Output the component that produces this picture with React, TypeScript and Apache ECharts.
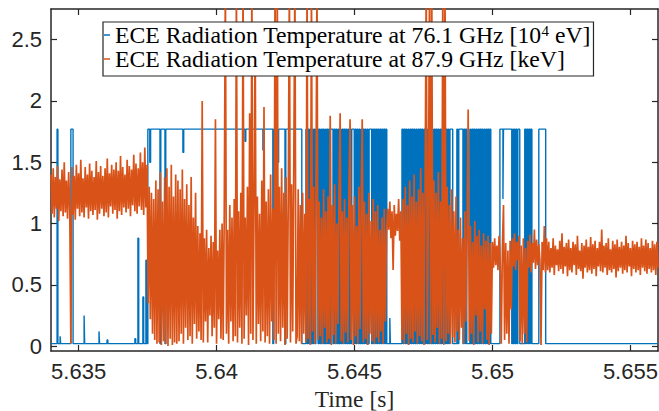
import React, { useEffect, useRef } from "react";
import * as echarts from "echarts";

const X_MIN = 5.634;
const X_MAX = 5.656;
const Y_MIN = -0.04;
const Y_MAX = 2.75;
const X_TICKS = [5.635, 5.64, 5.645, 5.65, 5.655];
const Y_TICKS = [0, 0.5, 1, 1.5, 2, 2.5];

const NAME_BLUE = "ECE Radiation Temperature at 76.1 GHz [10^4 eV]";
const NAME_ORANGE = "ECE Radiation Temperature at 87.9 GHz [keV]";

// 87.9 GHz channel, uniformly sampled from ORANGE_T0 every ORANGE_DT seconds
const ORANGE_T0 = 5.634;
const ORANGE_DT = 0.00004;
const ORANGE_VALUES = [
  1.40,1.08,1.45,1.05,1.38,1.12,1.47,1.02,1.36,1.10,
  1.44,1.06,1.50,1.09,1.35,1.04,1.42,1.11,0.02,1.46,
  1.07,1.39,1.03,1.48,1.12,1.41,1.06,1.52,1.09,1.37,
  1.05,1.46,1.13,1.40,1.04,1.49,1.10,1.43,1.07,1.38,
  1.11,1.51,1.03,1.42,1.08,1.47,1.12,1.39,1.06,1.45,
  1.09,1.53,1.05,1.41,1.14,1.48,1.08,1.44,1.11,1.50,
  1.04,1.43,1.10,1.55,1.07,1.46,1.13,1.40,1.09,1.52,
  1.12,1.47,1.06,1.44,1.15,1.56,1.10,1.49,1.08,1.45,
  1.14,1.58,1.11,1.50,1.07,1.62,1.13,1.48,0.35,1.30,
  0.22,1.25,0.10,1.20,0.05,1.35,0.02,1.28,0.03,1.42,
  0.01,1.18,0.04,1.38,0.02,1.45,0.00,1.30,0.06,1.48,
  0.01,1.22,0.03,1.40,0.02,1.35,0.04,1.28,0.10,1.44,
  0.02,1.20,0.15,1.32,0.05,1.15,0.08,1.38,0.02,1.05,
  0.18,1.25,0.06,0.98,0.12,0.92,0.05,2.00,0.03,0.88,
  0.20,0.95,0.03,0.80,0.25,0.90,0.08,0.85,0.15,1.85,
  0.02,0.78,0.22,0.95,0.06,1.00,0.05,1.10,3.00,0.10,
  0.95,0.02,1.15,0.20,1.05,0.04,1.20,0.08,3.00,0.03,
  1.10,0.15,1.25,0.02,3.00,0.06,1.05,0.25,1.30,0.01,
  1.90,0.10,3.00,0.05,1.15,2.60,0.02,1.22,0.18,1.08,
  0.04,1.35,0.12,1.95,0.03,1.18,0.08,1.28,0.02,1.40,
  0.20,1.12,0.05,3.00,0.02,3.00,0.10,1.30,0.04,1.45,
  0.15,1.25,0.01,1.38,0.06,1.20,3.00,0.03,1.32,0.12,
  1.50,3.00,0.02,0.08,1.28,0.04,1.15,0.02,1.25,0.10,
  1.08,0.03,3.00,0.06,1.20,0.01,3.00,0.12,1.30,0.02,
  1.12,3.00,0.05,1.18,0.08,1.05,0.02,1.28,0.15,1.10,
  0.03,1.22,0.06,1.88,0.01,1.15,0.09,1.32,0.02,1.00,
  0.18,1.25,1.90,0.04,1.10,0.02,1.20,0.11,1.05,0.03,
  1.28,1.85,0.05,1.15,0.01,1.22,0.08,0.98,0.02,1.30,
  0.14,1.12,1.85,0.03,1.18,0.06,1.08,0.01,1.25,0.10,
  1.02,0.04,1.20,0.02,1.10,0.07,1.15,0.03,0.95,0.12,
  1.05,0.02,1.12,0.20,0.92,1.12,0.95,1.18,0.88,1.10,
  0.62,1.15,0.90,1.08,0.94,1.20,0.86,1.10,0.05,1.20,
  0.02,1.30,0.10,1.15,0.01,1.35,0.06,1.22,0.03,1.40,
  0.12,1.18,0.02,1.28,0.08,1.45,0.04,1.25,0.01,1.32,
  3.00,0.05,1.20,3.00,0.02,3.00,0.09,1.35,0.03,1.25,
  0.15,1.42,0.02,1.18,0.06,3.00,0.01,3.00,0.04,1.30,
  0.10,1.15,0.02,1.28,0.07,1.10,0.03,1.22,0.12,0.95,
  0.05,1.05,0.15,0.88,0.02,1.10,0.20,0.92,1.93,0.04,
  0.98,0.10,0.85,0.01,1.02,0.25,0.90,0.03,0.95,0.12,
  0.82,0.02,0.92,0.30,0.86,0.05,0.90,0.01,0.84,0.10,
  0.85,0.64,0.88,0.66,0.82,0.62,0.90,0.68,0.02,0.80,
  1.15,0.05,0.84,0.10,0.78,0.02,0.86,0.30,0.88,0.65,
  0.92,0.62,0.85,0.70,0.90,0.04,0.82,0.02,0.88,0.10,
  0.80,0.03,0.86,0.64,0.91,0.60,0.84,0.68,0.95,0.63,
  0.87,0.66,0.83,0.70,0.01,0.85,0.62,0.98,0.60,0.88,
  0.62,0.85,0.60,0.80,0.64,0.88,0.58,0.82,0.66,0.79,
  0.61,0.86,0.63,0.92,0.59,0.81,0.65,0.84,0.57,0.87,
  0.62,0.80,0.60,0.85,0.66,0.83,0.58,0.90,0.63,0.78,
  0.61,0.84,0.55,0.82,0.64,0.87,0.60,0.81,0.62,0.89,
  0.59,0.83,0.63,0.86,0.57,0.80,0.65,0.85,0.61,0.95,
  0.60,0.82,0.64,0.84,0.58,0.88,0.62,0.79,0.60,0.86,
  0.63,0.83,0.56,0.87,0.61,0.81,0.64,0.85,0.59,0.82,
  0.62,0.90,0.60,0.84,0.65,0.80,0.57,0.86,0.63,0.83,
  0.60,0.85,0.62,0.81,0.58,0.88,0.64,0.82,0.61,0.87,
  0.59,0.84,0.63,0.80,0.60,0.86,0.62,0.83,0.58,0.85,0.64,
];

// 76.1 GHz channel: [time of change (s), new level]
const BLUE_STEPS: [number, number][] = [
  [5.63400,0.02],[5.63422,1.77],[5.63425,0.02],[5.63433,0.08],[5.63435,0.02],
  [5.63472,1.77],[5.63480,0.02],[5.63520,0.25],[5.63522,0.02],[5.63574,0.12],[5.63576,0.02],
  [5.63603,0.05],[5.63606,0.02],[5.63704,0.06],[5.63707,0.02],[5.63715,0.88],[5.63718,0.02],
  [5.63733,0.40],[5.63736,0.02],[5.63744,0.70],[5.63747,0.02],[5.63751,1.77],
  [5.63758,1.50],[5.63761,1.77],[5.63795,0.02],[5.63798,1.77],[5.63813,0.02],[5.63816,1.77],
  [5.63878,1.58],[5.63881,1.77],[5.64103,1.67],[5.64106,1.77],[5.64168,1.60],[5.64171,1.77],
  [5.64204,0.02],[5.64207,1.77],[5.64222,1.50],[5.64225,1.77],[5.64248,0.02],[5.64251,1.77],
  [5.64309,0.02],
  [5.64324,1.77],[5.64328,0.02],[5.64331,1.77],[5.64335,0.02],[5.64338,1.77],[5.64341,0.02],
  [5.64345,1.77],[5.64348,0.02],[5.64352,1.77],[5.64356,0.02],[5.64360,1.77],[5.64368,0.02],
  [5.64371,1.77],[5.64374,0.02],[5.64378,1.77],[5.64381,0.02],[5.64384,1.77],[5.64388,0.02],
  [5.64392,1.77],[5.64395,0.02],[5.64399,1.77],[5.64403,0.02],[5.64406,1.77],[5.64410,0.02],
  [5.64413,1.77],[5.64422,0.02],[5.64425,1.77],[5.64429,0.02],[5.64432,1.77],[5.64436,0.02],
  [5.64440,1.77],[5.64443,0.02],[5.64447,1.77],[5.64450,0.02],[5.64454,1.77],[5.64458,0.02],
  [5.64461,1.77],[5.64465,0.02],[5.64468,1.77],[5.64472,0.02],[5.64476,1.77],[5.64479,0.02],
  [5.64483,1.77],[5.64487,0.02],[5.64490,1.77],[5.64499,0.02],[5.64502,1.77],[5.64506,0.02],
  [5.64509,1.77],[5.64513,0.02],[5.64517,1.77],[5.64520,0.02],[5.64524,1.77],[5.64528,0.02],
  [5.64531,1.77],[5.64535,0.02],[5.64538,1.77],[5.64542,0.02],[5.64546,1.77],[5.64549,0.02],
  [5.64553,1.77],[5.64562,0.02],[5.64565,1.77],[5.64569,0.02],[5.64572,1.77],[5.64576,0.02],
  [5.64579,1.77],[5.64583,0.02],[5.64586,1.77],[5.64590,0.02],[5.64593,1.77],[5.64597,0.02],
  [5.64600,1.77],[5.64604,0.02],[5.64607,1.77],[5.64611,0.02],[5.64614,1.77],[5.64617,0.02],
  [5.64628,0.23],[5.64630,0.02],
  [5.64672,1.77],[5.64676,0.02],[5.64679,1.77],[5.64683,0.02],[5.64686,1.77],[5.64690,0.02],
  [5.64694,1.77],[5.64697,0.02],[5.64701,1.77],[5.64705,0.02],[5.64708,1.77],[5.64712,0.02],
  [5.64715,1.77],[5.64719,0.02],[5.64723,1.77],[5.64726,0.02],[5.64730,1.77],[5.64734,0.02],
  [5.64737,1.77],[5.64741,0.02],[5.64744,1.77],[5.64748,0.02],[5.64752,1.77],[5.64755,0.02],
  [5.64759,1.77],[5.64763,0.02],[5.64766,1.77],[5.64770,0.02],[5.64773,1.77],[5.64777,0.02],
  [5.64781,1.77],[5.64784,0.02],[5.64788,1.77],[5.64792,0.02],[5.64795,1.77],[5.64799,0.02],
  [5.64802,1.77],[5.64806,0.02],[5.64810,1.77],[5.64813,0.02],[5.64817,1.77],[5.64821,0.02],
  [5.64824,1.77],[5.64828,0.02],[5.64831,1.77],[5.64835,0.02],[5.64838,1.77],[5.64842,0.02],
  [5.64846,1.77],[5.64856,0.02],[5.64871,1.77],[5.64874,0.02],[5.64878,1.77],[5.64893,0.02],
  [5.64896,1.77],[5.64900,0.02],[5.64903,1.77],[5.64907,0.02],[5.64918,1.77],[5.64921,0.02],
  [5.64925,1.77],[5.64929,0.02],[5.64932,1.77],[5.64936,0.02],[5.64940,1.77],[5.64943,0.02],
  [5.64947,1.77],[5.64951,0.02],[5.64954,1.77],[5.64958,0.02],[5.64961,1.77],[5.64965,0.02],
  [5.64969,1.77],[5.64972,0.02],[5.64976,1.77],[5.64980,0.02],[5.64983,1.77],[5.64987,0.02],
  [5.64990,1.77],[5.64994,0.02],
  [5.65027,1.77],[5.65038,1.20],[5.65040,1.77],[5.65070,0.02],[5.65073,1.77],[5.65076,0.02],
  [5.65079,1.77],[5.65082,0.02],[5.65085,1.77],[5.65088,0.02],[5.65092,1.77],[5.65099,0.02],
  [5.65117,1.77],[5.65121,0.02],[5.65124,1.77],[5.65128,0.02],[5.65131,1.77],[5.65135,0.02],
  [5.65138,1.77],[5.65143,0.02],[5.65168,1.77],[5.65193,0.02],[5.65600,0.02],
];

const AXIS_COLOR = "#262626";

export default function App() {
  const ref = useRef<HTMLDivElement>(null);

  useEffect(() => {
    document.body.style.margin = "0";
    if (!ref.current) return;
    const chart = echarts.init(ref.current, undefined, { renderer: "svg" });

    const orangeData = ORANGE_VALUES.map((v, i) => [
      Number((ORANGE_T0 + i * ORANGE_DT).toFixed(6)),
      v,
    ]);

    const axisLineStyle = { color: AXIS_COLOR, width: 1.5 };
    const tickStyle = { color: AXIS_COLOR, width: 1.2 };
    const labelStyle = {
      fontFamily: "Liberation Sans",
      fontSize: 22,
      color: AXIS_COLOR,
    };

    const option: any = {
      animation: false,
      grid: {
        left: 51,
        right: 1,
        top: 9,
        bottom: 60,
        containLabel: false,
        outerBoundsMode: "none",
      },
      legend: {
        orient: "vertical",
        left: 103,
        top: 22,
        padding: [1, 3, 5, 1],
        itemGap: 0,
        itemWidth: 6,
        itemHeight: 1.5,
        icon: "rect",
        borderColor: AXIS_COLOR,
        borderWidth: 1.2,
        backgroundColor: "#ffffff",
        selectedMode: false,
        data: [NAME_BLUE, NAME_ORANGE],
        formatter: (name: string) =>
          name === NAME_BLUE
            ? "{a|ECE Radiation Temperature at 76.1 GHz [10}{s|4}{a| eV]}"
            : "{a|" + name + "}",
        textStyle: {
          fontFamily: "Liberation Serif",
          fontSize: 23.7,
          color: "#000",
          rich: {
            a: {
              fontFamily: "Liberation Serif",
              fontSize: 23.7,
              lineHeight: 24,
              color: "#000",
            },
            s: {
              fontFamily: "Liberation Serif",
              fontSize: 15,
              lineHeight: 14,
              verticalAlign: "top",
              color: "#000",
            },
          },
        },
      },
      xAxis: [
        {
          type: "value",
          min: X_MIN,
          max: X_MAX,
          position: "bottom",
          axisLine: { show: true, onZero: false, lineStyle: axisLineStyle },
          axisTick: {
            show: true,
            inside: true,
            length: 6,
            customValues: X_TICKS,
            lineStyle: tickStyle,
          },
          axisLabel: {
            ...labelStyle,
            margin: 9,
            customValues: X_TICKS,
            formatter: (v: number) => String(v),
          },
          splitLine: { show: false },
          name: "Time [s]",
          nameLocation: "middle",
          nameGap: 35,
          nameTextStyle: {
            fontFamily: "Liberation Serif",
            fontSize: 23.5,
            color: AXIS_COLOR,
          },
        },
        {
          type: "value",
          min: X_MIN,
          max: X_MAX,
          position: "top",
          axisLine: { show: true, onZero: false, lineStyle: axisLineStyle },
          axisTick: {
            show: true,
            inside: true,
            length: 6,
            customValues: X_TICKS,
            lineStyle: tickStyle,
          },
          axisLabel: { show: false },
          splitLine: { show: false },
        },
      ],
      yAxis: [
        {
          type: "value",
          min: Y_MIN,
          max: Y_MAX,
          position: "left",
          axisLine: { show: true, onZero: false, lineStyle: axisLineStyle },
          axisTick: {
            show: true,
            inside: true,
            length: 6,
            customValues: Y_TICKS,
            lineStyle: tickStyle,
          },
          axisLabel: {
            ...labelStyle,
            margin: 9,
            customValues: Y_TICKS,
            formatter: (v: number) => String(v),
          },
          splitLine: { show: false },
        },
        {
          type: "value",
          min: Y_MIN,
          max: Y_MAX,
          position: "right",
          axisLine: { show: true, onZero: false, lineStyle: axisLineStyle },
          axisTick: {
            show: true,
            inside: true,
            length: 6,
            customValues: Y_TICKS,
            lineStyle: tickStyle,
          },
          axisLabel: { show: false },
          splitLine: { show: false },
        },
      ],
      series: [
        {
          name: NAME_BLUE,
          type: "line",
          data: BLUE_STEPS,
          step: "end",
          showSymbol: false,
          symbol: "none",
          silent: true,
          clip: true,
          z: 2,
          lineStyle: { color: "#0072BD", width: 1.4 },
          itemStyle: { color: "#0072BD" },
        },
        {
          name: NAME_ORANGE,
          type: "line",
          data: orangeData,
          showSymbol: false,
          symbol: "none",
          silent: true,
          clip: true,
          z: 3,
          lineStyle: { color: "#D95319", width: 1.7 },
          itemStyle: { color: "#D95319" },
        },
      ],
    };

    chart.setOption(option);
    return () => chart.dispose();
  }, []);

  return <div ref={ref} style={{ width: 659, height: 411 }} />;
}
